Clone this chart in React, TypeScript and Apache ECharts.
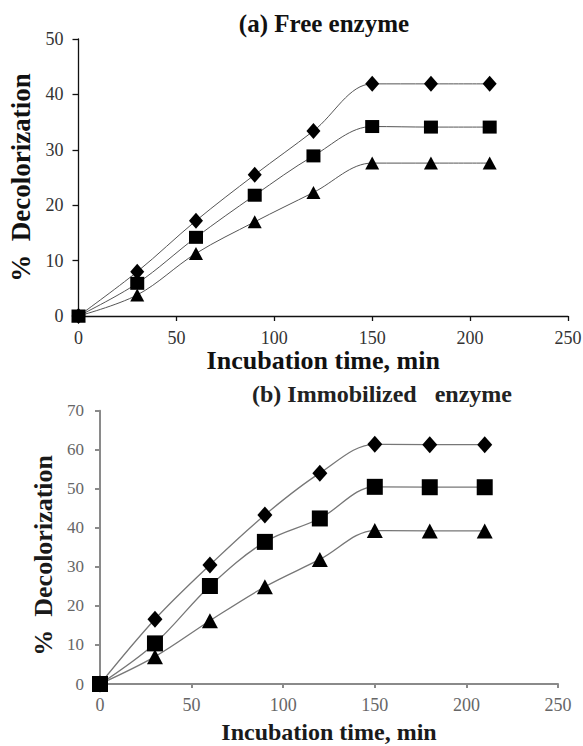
import React, { useEffect, useRef } from "react";
import * as echarts from "echarts";

const times = [0, 30, 60, 90, 120, 150, 180, 210];
const freeDiamond = [0, 8.0, 17.2, 25.5, 33.4, 41.9, 41.9, 41.9];
const freeSquare = [0, 5.9, 14.2, 21.8, 28.9, 34.2, 34.1, 34.1];
const freeTriangle = [0, 3.8, 11.3, 17.0, 22.3, 27.6, 27.6, 27.6];
const immDiamond = [0, 16.6, 30.5, 43.3, 54.0, 61.4, 61.3, 61.3];
const immSquare = [0, 10.4, 25.1, 36.4, 42.4, 50.5, 50.4, 50.4];
const immTriangle = [0, 7.0, 16.2, 24.9, 31.9, 39.3, 39.2, 39.2];

const titleA = "(a) Free enzyme";
const titleB = "(b) Immobilized   enzyme";
const xName = "Incubation time, min";
const yName = "%  Decolorization";

const serif = "'Liberation Serif', 'Times New Roman', serif";

function pairs(ys: number[]) {
  return times.map((t, i) => [t, ys[i]]);
}

export default function App() {
  const ref = useRef<HTMLDivElement>(null);
  useEffect(() => {
    document.body.style.margin = "0";
    if (!ref.current) return;
    const chart = echarts.init(ref.current, undefined, { renderer: "svg" });

    const mkSeries = (
      name: string,
      data: number[],
      symbol: string,
      size: number | number[],
      axisIdx: number,
      lineColor: string,
      lineWidth: number
    ) => ({
      type: "line",
      name,
      xAxisIndex: axisIdx,
      yAxisIndex: axisIdx,
      data: pairs(data),
      smooth: 0.35,
      symbol,
      symbolSize: size,
      showAllSymbol: true,
      itemStyle: { color: "#000", borderWidth: 0 },
      lineStyle: { color: lineColor, width: lineWidth },
      z: 3,
    });

    const option: any = {
      animation: false,
      backgroundColor: "#fff",
      title: [
        {
          text: titleA,
          left: 324,
          top: 11,
          textAlign: "center",
          padding: 0,
          textStyle: { fontFamily: serif, fontWeight: "bold", fontSize: 25, color: "#111" },
        },
        {
          text: titleB,
          left: 382,
          top: 382,
          textAlign: "center",
          padding: 0,
          textStyle: { fontFamily: serif, fontWeight: "bold", fontSize: 24, color: "#222" },
        },
      ],
      grid: [
        { left: 78.5, top: 39, width: 489.5, height: 277, outerBoundsMode: "none", containLabel: false },
        { left: 100, top: 410.7, width: 458, height: 273.3, outerBoundsMode: "none", containLabel: false },
      ],
      xAxis: [
        {
          gridIndex: 0,
          type: "value",
          min: 0,
          max: 250,
          interval: 50,
          name: xName,
          nameLocation: "middle",
          nameGap: 25,
          nameTextStyle: { fontFamily: serif, fontWeight: "bold", fontSize: 26, color: "#111" },
          axisLine: { lineStyle: { color: "#111", width: 1.3 } },
          axisTick: { show: true, length: 5, lineStyle: { color: "#111", width: 1.3 } },
          axisLabel: { fontFamily: serif, fontSize: 18, color: "#333", margin: 13 },
          splitLine: { show: false },
        },
        {
          gridIndex: 1,
          type: "value",
          min: 0,
          max: 250,
          interval: 50,
          name: xName,
          nameLocation: "middle",
          nameGap: 36,
          nameTextStyle: { fontFamily: serif, fontWeight: "bold", fontSize: 24, color: "#1a1a1a" },
          axisLine: { lineStyle: { color: "#8a8a8a", width: 2 } },
          axisTick: { show: true, length: 4, lineStyle: { color: "#8a8a8a", width: 2 } },
          axisLabel: { fontFamily: serif, fontSize: 18, color: "#666", margin: 12 },
          splitLine: { show: false },
        },
      ],
      yAxis: [
        {
          gridIndex: 0,
          type: "value",
          min: 0,
          max: 50,
          interval: 10,
          name: yName,
          nameLocation: "middle",
          nameGap: 40,
          nameTextStyle: { fontFamily: serif, fontWeight: "bold", fontSize: 27, color: "#111" },
          axisLine: { show: true, lineStyle: { color: "#111", width: 1.3 } },
          axisTick: { show: true, length: 6, lineStyle: { color: "#111", width: 1.3 } },
          axisLabel: { fontFamily: serif, fontSize: 18, color: "#333", margin: 15 },
          splitLine: { show: false },
        },
        {
          gridIndex: 1,
          type: "value",
          min: 0,
          max: 70,
          interval: 10,
          name: yName,
          nameLocation: "middle",
          nameGap: 40,
          nameTextStyle: {
            fontFamily: serif,
            fontWeight: "bold",
            fontSize: 26,
            color: "#1a1a1a",
            padding: [0, 16, 0, 0],
          },
          axisLine: { show: true, lineStyle: { color: "#8a8a8a", width: 2 } },
          axisTick: { show: true, length: 5, lineStyle: { color: "#8a8a8a", width: 2 } },
          axisLabel: { fontFamily: serif, fontSize: 17, color: "#666", margin: 16 },
          splitLine: { show: false },
        },
      ],
      series: [
        mkSeries("Diamond A", freeDiamond, "diamond", [14, 16], 0, "#555", 1),
        mkSeries("Triangle A", freeTriangle, "triangle", [14, 13], 0, "#555", 1),
        mkSeries("Square A", freeSquare, "rect", [14, 13], 0, "#555", 1),
        mkSeries("Diamond B", immDiamond, "diamond", [15, 17], 1, "#777", 1.3),
        mkSeries("Triangle B", immTriangle, "triangle", [16, 15], 1, "#777", 1.3),
        mkSeries("Square B", immSquare, "rect", [16, 16], 1, "#777", 1.3),
      ],
    };
    chart.setOption(option);
    return () => chart.dispose();
  }, []);
  return <div ref={ref} style={{ width: 583, height: 746 }} />;
}
